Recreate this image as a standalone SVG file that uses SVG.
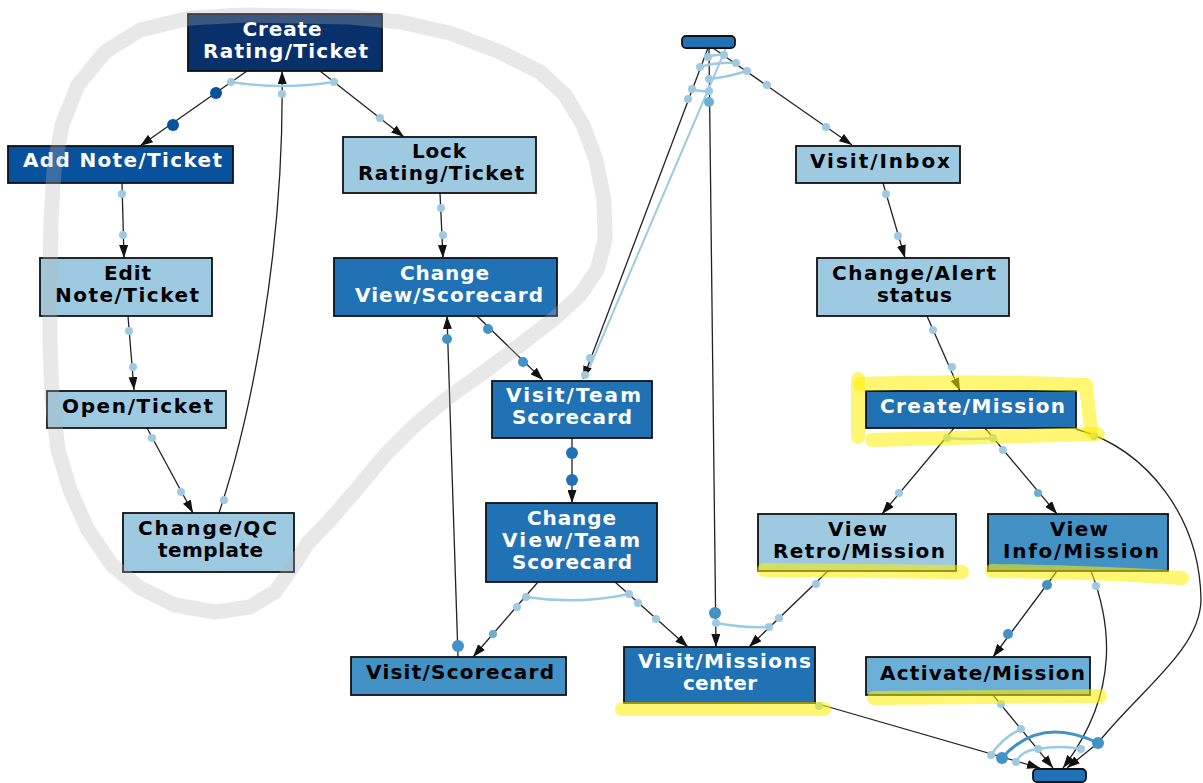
<svg xmlns="http://www.w3.org/2000/svg" width="1203" height="783" viewBox="0 0 1203 783">
  <style>
    .box { stroke: #111; stroke-width: 1.8; }
    .f0 { fill: #08306b; } .f1 { fill: #08519c; } .f2 { fill: #2171b5; }
    .f3 { fill: #4292c6; } .f4 { fill: #6baed6; } .f5 { fill: #9ecae1; }
    .t { font-family: "DejaVu Sans", Verdana, sans-serif; font-weight: bold; font-size: 20px; text-anchor: middle; }
    .w { fill: #fff; } .k { fill: #000; }
    .e { fill: none; stroke: #222; stroke-width: 1.3; }
    .ea { marker-end: url(#ah); }
    .arc { fill: none; stroke: #9ecae1; stroke-width: 2.5; }
    .arcm { fill: none; stroke: #4292c6; stroke-width: 3; }
    .dl { fill: #9ecae1; } .dm { fill: #6baed6; } .dM { fill: #4292c6; } .dd { fill: #2171b5; } .dn { fill: #08519c; }
    .hl { fill: none; stroke: #ffee00; stroke-opacity: 0.55; stroke-width: 14; stroke-linecap: round; stroke-linejoin: round; }
    .loop { fill: none; stroke: #b4b4b4; stroke-opacity: 0.3; stroke-width: 15; stroke-linejoin: round; }
  </style>
  <defs>
    <marker id="ah" viewBox="0 0 13 9" refX="13" refY="4.5" markerWidth="13" markerHeight="9" markerUnits="userSpaceOnUse" orient="auto">
      <path d="M0,0 L13,4.5 L0,9 z" fill="#111"/>
    </marker>
  </defs>

  <rect width="1203" height="783" fill="#fff"/>

  <!-- connectors -->
  <g id="connectors">
    <path class="e ea" d="M247,71 L140,146"/>
    <path class="e ea" d="M320,71 L404,137"/>
    <path class="e ea" d="M219,513 C250,420 285,250 282,71"/>
    <path class="e ea" d="M122,183 L124,258"/>
    <path class="e ea" d="M128,316 L134,390"/>
    <path class="e ea" d="M147,428 L193,513"/>
    <path class="e ea" d="M440,193 L443,258"/>
    <path class="e ea" d="M458,657 L447,316"/>
    <path class="e ea" d="M477,316 L543,380"/>
    <path class="e ea" d="M572,438 L572,503"/>
    <path class="e ea" d="M538,582 L473,657"/>
    <path class="e ea" d="M615,582 L688,647"/>
    <path class="e ea" d="M709,48 L716,647"/>
    <path class="e ea" d="M828,571 L749,647"/>
    <path d="M726,48 L585,378" fill="none" stroke="#9ecae1" stroke-width="2"/>
    <path class="e ea" d="M708,48 L583,379"/>
    <path class="e ea" d="M713,48 L852,145"/>
    <path class="e ea" d="M883,183 L905,258"/>
    <path class="e ea" d="M927,316 L960,391"/>
    <path class="e ea" d="M954,428 L882,514"/>
    <path class="e ea" d="M985,428 L1057,514"/>
    <path class="e ea" d="M1076,429 C1150,450 1200,520 1201,600 C1200,650 1140,690 1098,743 L1067,768"/>
    <path class="e ea" d="M1057,571 L993,657"/>
    <path class="e ea" d="M1091,571 C1110,620 1122,690 1063,768"/>
    <path class="e ea" d="M993,695 L1053,768"/>
    <path class="e ea" d="M815,703 L1040,768"/>

    <!-- bundling arcs -->
    <path class="arc" d="M231,82 Q282,90 334,82"/>
    <path class="arc" d="M526,597 Q578,605 629,594"/>
    <path class="arc" d="M716,623 Q742,628 769,627"/>
    <path class="arc" d="M708,57 Q716,54 724,55"/>
    <path class="arc" d="M700,67 Q718,62 736,63"/>
    <path class="arc" d="M709,79 Q728,77 747,71"/>
    <path class="arc" d="M692,89 Q700,92 709,91"/>
    <path class="arc" d="M947,438 Q970,440 993,438"/>
    <path class="arc" d="M991,755 Q1002,738 1021,729"/>
    <path class="arcm" d="M1002,758 Q1040,715 1098,743"/>
    <path class="arc" d="M1016,762 Q1022,750 1038,749 Q1060,745 1081,749"/>

    <!-- edge markers -->
    <circle class="dn" cx="216" cy="93" r="6"/>
    <circle class="dn" cx="173" cy="125" r="6"/>
    <circle class="dl" cx="231" cy="82" r="4"/>
    <circle class="dl" cx="334" cy="82" r="4"/>
    <circle class="dl" cx="282" cy="94" r="4"/>
    <circle class="dl" cx="380" cy="118" r="4"/>
    <circle class="dl" cx="122" cy="194" r="4"/>
    <circle class="dl" cx="123" cy="235" r="4"/>
    <circle class="dl" cx="129" cy="331" r="4"/>
    <circle class="dl" cx="133" cy="367" r="4"/>
    <circle class="dl" cx="152" cy="438" r="4"/>
    <circle class="dl" cx="181" cy="492" r="4"/>
    <circle class="dl" cx="224" cy="500" r="4"/>
    <circle class="dl" cx="441" cy="208" r="4"/>
    <circle class="dl" cx="443" cy="235" r="4"/>
    <circle class="dM" cx="447" cy="339" r="5"/>
    <circle class="dM" cx="458" cy="646" r="6"/>
    <circle class="dM" cx="488" cy="329" r="5"/>
    <circle class="dM" cx="523" cy="362" r="5"/>
    <circle class="dd" cx="572" cy="453" r="6"/>
    <circle class="dd" cx="572" cy="480" r="6"/>
    <circle class="dl" cx="526" cy="597" r="4"/>
    <circle class="dl" cx="517" cy="607" r="4"/>
    <circle class="dm" cx="493" cy="634" r="4"/>
    <circle class="dl" cx="629" cy="594" r="4"/>
    <circle class="dl" cx="638" cy="603" r="4"/>
    <circle class="dl" cx="656" cy="619" r="4"/>
    <circle class="dM" cx="715" cy="613" r="6"/>
    <circle class="dl" cx="716" cy="623" r="4"/>
    <circle class="dl" cx="769" cy="627" r="4"/>
    <circle class="dl" cx="779" cy="618" r="4"/>
    <circle class="dl" cx="816" cy="584" r="4"/>
    <circle class="dl" cx="590" cy="358" r="4"/>
    <circle class="dl" cx="585" cy="375" r="4"/>
    <circle class="dl" cx="708" cy="57" r="4"/>
    <circle class="dl" cx="724" cy="55" r="4"/>
    <circle class="dl" cx="736" cy="63" r="4"/>
    <circle class="dl" cx="700" cy="67" r="4"/>
    <circle class="dl" cx="747" cy="71" r="4"/>
    <circle class="dl" cx="767" cy="85" r="4"/>
    <circle class="dl" cx="709" cy="79" r="4"/>
    <circle class="dl" cx="692" cy="89" r="4"/>
    <circle class="dl" cx="709" cy="91" r="4"/>
    <circle class="dl" cx="688" cy="99" r="4"/>
    <circle class="dm" cx="709" cy="102" r="5"/>
    <circle class="dl" cx="826" cy="127" r="4"/>
    <circle class="dl" cx="886" cy="194" r="4"/>
    <circle class="dl" cx="898" cy="236" r="4"/>
    <circle class="dl" cx="933" cy="330" r="4"/>
    <circle class="dl" cx="952" cy="367" r="4"/>
    <circle class="dl" cx="947" cy="438" r="4"/>
    <circle class="dl" cx="993" cy="438" r="4"/>
    <circle class="dl" cx="1003" cy="450" r="4"/>
    <circle class="dm" cx="1038" cy="493" r="4"/>
    <circle class="dl" cx="899" cy="493" r="4"/>
    <circle class="dl" cx="1094" cy="436" r="4"/>
    <circle class="dM" cx="1047" cy="585" r="5"/>
    <circle class="dM" cx="1008" cy="634" r="5"/>
    <circle class="dl" cx="1096" cy="586" r="4"/>
    <circle class="dl" cx="1001" cy="704" r="4"/>
    <circle class="dl" cx="1021" cy="729" r="4"/>
    <circle class="dl" cx="819" cy="706" r="4"/>
    <circle class="dl" cx="991" cy="755" r="4"/>
    <circle class="dM" cx="1002" cy="758" r="6"/>
    <circle class="dl" cx="1016" cy="762" r="4"/>
    <circle class="dl" cx="1038" cy="749" r="4"/>
    <circle class="dl" cx="1081" cy="749" r="4"/>
    <circle class="dM" cx="1098" cy="743" r="6"/>
  </g>

  <!-- nodes -->
  <g id="start"><rect class="box f2" x="682" y="36" width="53" height="12" rx="4"/></g>
  <g id="end"><rect class="box f2" x="1033" y="769" width="53" height="13" rx="4"/></g>

  <g id="create-rating-ticket">
    <rect class="box f0" x="188" y="14" width="194" height="57"/>
    <text class="t w" x="282" y="36" textLength="79">Create</text>
    <text class="t w" x="285.5" y="58" textLength="165">Rating/Ticket</text>
  </g>
  <g id="add-note-ticket">
    <rect class="box f1" x="8" y="146" width="225" height="37"/>
    <text class="t w" x="122.5" y="167" textLength="199">Add Note/Ticket</text>
  </g>
  <g id="lock-rating-ticket">
    <rect class="box f5" x="343" y="137" width="193" height="56"/>
    <text class="t k" x="439" y="158" textLength="54">Lock</text>
    <text class="t k" x="441" y="180" textLength="166">Rating/Ticket</text>
  </g>
  <g id="edit-note-ticket">
    <rect class="box f5" x="40" y="258" width="172" height="58"/>
    <text class="t k" x="127.5" y="280" textLength="47">Edit</text>
    <text class="t k" x="127" y="302" textLength="144">Note/Ticket</text>
  </g>
  <g id="change-view-scorecard">
    <rect class="box f2" x="334" y="258" width="223" height="58"/>
    <text class="t w" x="444.5" y="280" textLength="89">Change</text>
    <text class="t w" x="449" y="302" textLength="188">View/Scorecard</text>
  </g>
  <g id="open-ticket">
    <rect class="box f5" x="47" y="391" width="179" height="37"/>
    <text class="t k" x="137.5" y="413" textLength="151">Open/Ticket</text>
  </g>
  <g id="change-qc-template">
    <rect class="box f5" x="123" y="513" width="171" height="59"/>
    <text class="t k" x="207.5" y="535" textLength="139">Change/QC</text>
    <text class="t k" x="210.5" y="557" textLength="105">template</text>
  </g>
  <g id="visit-team-scorecard">
    <rect class="box f2" x="492" y="381" width="160" height="57"/>
    <text class="t w" x="573.5" y="402" textLength="135">Visit/Team</text>
    <text class="t w" x="572" y="424" textLength="120">Scorecard</text>
  </g>
  <g id="change-view-team-scorecard">
    <rect class="box f2" x="486" y="503" width="171" height="79"/>
    <text class="t w" x="571.5" y="525" textLength="89">Change</text>
    <text class="t w" x="571" y="547" textLength="138">View/Team</text>
    <text class="t w" x="572" y="569" textLength="120">Scorecard</text>
  </g>
  <g id="visit-scorecard">
    <rect class="box f3" x="351" y="657" width="215" height="38"/>
    <text class="t k" x="460" y="679" textLength="188">Visit/Scorecard</text>
  </g>
  <g id="visit-missions-center">
    <rect class="box f2" x="624" y="647" width="191" height="56"/>
    <text class="t w" x="724.5" y="668" textLength="173">Visit/Missions</text>
    <text class="t w" x="720" y="690" textLength="74">center</text>
  </g>
  <g id="visit-inbox">
    <rect class="box f5" x="796" y="146" width="164" height="37"/>
    <text class="t k" x="880" y="168" textLength="140">Visit/Inbox</text>
  </g>
  <g id="change-alert-status">
    <rect class="box f5" x="817" y="258" width="192" height="58"/>
    <text class="t k" x="914" y="280" textLength="164">Change/Alert</text>
    <text class="t k" x="914.5" y="302" textLength="75">status</text>
  </g>
  <g id="create-mission">
    <rect class="box f2" x="866" y="391" width="210" height="37"/>
    <text class="t w" x="972.5" y="413" textLength="185">Create/Mission</text>
  </g>
  <g id="view-retro-mission">
    <rect class="box f5" x="758" y="514" width="198" height="57"/>
    <text class="t k" x="857.5" y="536" textLength="59">View</text>
    <text class="t k" x="859" y="558" textLength="172">Retro/Mission</text>
  </g>
  <g id="view-info-mission">
    <rect class="box f3" x="988" y="514" width="180" height="57"/>
    <text class="t k" x="1079" y="536" textLength="58">View</text>
    <text class="t k" x="1081" y="558" textLength="156">Info/Mission</text>
  </g>
  <g id="activate-mission">
    <rect class="box f4" x="866" y="657" width="224" height="38"/>
    <text class="t k" x="982.5" y="680" textLength="205">Activate/Mission</text>
  </g>

  <!-- hand-drawn grey loop around the ticket workflow -->
  <polyline class="loop" points="300,16 350,17 400,22 450,33 500,52 540,72 565,95 583,125 596,160 604,200 605,240 597,270 580,295 555,318 520,345 480,375 445,400 415,425 385,455 356,490 330,520 308,543 292,568 275,592 250,607 215,612 175,605 140,588 112,565 88,530 70,490 58,450 52,400 50,340 50,280 51,220 54,170 62,125 78,85 105,52 140,30 190,18 245,15 300,16"/>

  <!-- yellow marker strokes -->
  <g id="highlights">
    <path class="hl" d="M858,379 L858,437"/>
    <path class="hl" d="M860,384 Q970,380 1086,385 L1091,431"/>
    <path class="hl" d="M872,440 Q985,437 1098,434"/>
    <path class="hl" d="M764,570 L962,572"/>
    <path class="hl" d="M992,571 Q1090,572 1182,578"/>
    <path class="hl" d="M874,698 L1100,696"/>
    <path class="hl" d="M622,709 L824,709"/>
  </g>
</svg>
